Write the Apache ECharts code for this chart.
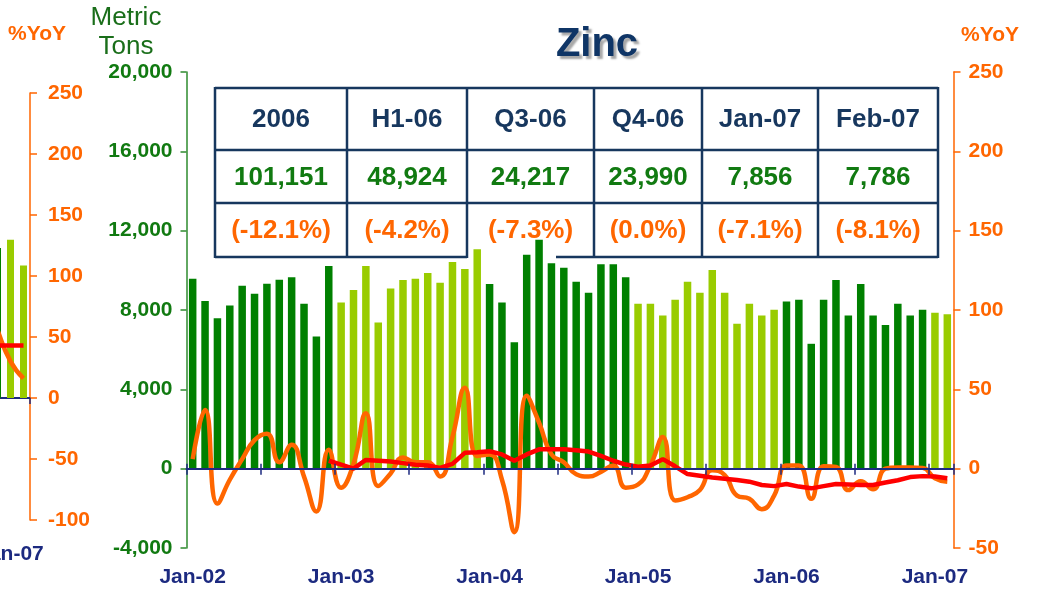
<!DOCTYPE html>
<html><head><meta charset="utf-8">
<script src="https://cdn.jsdelivr.net/npm/echarts@6/dist/echarts.min.js"></script>
<style>html,body{margin:0;padding:0;background:#fff}#c{width:1041px;height:589px}</style>
</head><body><div id="c"></div>
<script>
// ---------- data ----------
const monthNames = ['Jan','Feb','Mar','Apr','May','Jun','Jul','Aug','Sep','Oct','Nov','Dec'];
const yearSuffixes = ['02','03','04','05','06','07'];
const categories = [];
yearSuffixes.forEach(y => monthNames.forEach(m => categories.push(m + '-' + y)));
categories.length = 62; // Jan-02 .. Feb-07

// Monthly output, metric tons
const tons = [
  9580, 8450, 7590, 8230, 9226, 8822, 9327, 9529, 9646, 8317, 6666, 10218,
  8383, 9006, 10218, 7373, 9090, 9511, 9578, 9864, 9376, 10420, 10066, 11060,
  9309, 8383, 6380, 10790, 11548, 10352, 10134, 9427, 8871, 10302, 10302, 9646,
  8316, 8316, 7727, 8518, 9427, 8871, 10016, 8871, 7306, 8316, 7727, 8013,
  8434, 8518, 6296, 8518, 9511, 7727, 9309, 7727, 7239, 8316, 7727, 8013,
  7856, 7786
];
// Monthly %YoY (orange)
const yoyMonthly = [
  6, 37, -22, -7, 6, 18, 22, 4, 15, -5, -27, 12,
  -12, 3, 35, -11, -3, 7, 4, 4, -5, 20, 51, 8,
  9, -7, -40, 46, 29, 9, 4, -3.5, -5, -2, 2, -12,
  -10, 2, 20, -20, -18, -13.5, -1, -4, -17, -19, -25.5, -17,
  2, 2, -19, 1.5, 1, -13.5, -8, -13, 0, 0.8, 0.8, 0.5,
  -6, -8.3
];
// Cumulative %YoY (red)
const yoyRolling = [
  null, null, null, null, null, null, null, null, null, null, null, 5,
  2.5, 0, 5.5, 5, 4.5, 3.5, 2.5, 2, 0.5, 3, 10, 10.3,
  11, 9, 5, 9, 12.2, 12.2, 12.2, 11.6, 10.8, 8, 5, 2.6,
  1.2, 2, 6, 1.5, -3.4, -4.5, -5.6, -6.3, -7.1, -8.2, -10.3, -11,
  -9.7, -11.3, -12.4, -11, -9.7, -10, -10.3, -10.3, -8.7, -7.3, -5.3, -4.7,
  -5, -6
];
// Summary table
const tableHeaders = ['2006', 'H1-06', 'Q3-06', 'Q4-06', 'Jan-07', 'Feb-07'];
const tableTons = ['101,151', '48,924', '24,217', '23,990', '7,856', '7,786'];
const tablePct = ['(-12.1%)', '(-4.2%)', '(-7.3%)', '(0.0%)', '(-7.1%)', '(-8.1%)'];

// Partially visible neighbouring chart at the left edge
const fragCategories = ['Dec-06', 'Jan-07', 'Feb-07'];
const fragTons = [9836, 10380, 8682];
const fragYoyMonthly = [56, 30, 16];
const fragYoyRolling = [43, 43, 43];

// ---------- styling ----------
const FONT = '"Liberation Sans", Arial, sans-serif';
const NAVY = '#1c2a80';
const DARK = '#008000';
const LIGHT = '#99cc00';
const ORANGE = '#ff6600';
const RED = '#ff0000';
const GREEN_TXT = '#117a11';
const TABLE_NAVY = '#17375e';

function barColor(yearIdx) { return yearIdx % 2 ? LIGHT : DARK; }

const chart = echarts.init(document.getElementById('c'), null, {renderer: 'canvas'});

// table graphics
const colX = [215, 347, 467, 594, 702, 818, 938];
const rowY = [88, 150, 203, 257];
const tableEls = [];
const lineStyle = {stroke: TABLE_NAVY, lineWidth: 2.5};
rowY.slice(0, 3).forEach(y => tableEls.push({type: 'line', z: 0, shape: {x1: colX[0], y1: y, x2: colX[6], y2: y}, style: lineStyle}));
tableEls.push({type: 'line', z: 0, shape: {x1: colX[0], y1: rowY[3], x2: colX[2], y2: rowY[3]}, style: lineStyle});
tableEls.push({type: 'line', z: 0, shape: {x1: 556, y1: rowY[3], x2: colX[6], y2: rowY[3]}, style: lineStyle});
colX.forEach(x => tableEls.push({type: 'line', z: 0, shape: {x1: x, y1: rowY[0] - 1, x2: x, y2: rowY[3] + 1}, style: lineStyle}));
const rowsText = [
  {arr: tableHeaders, color: TABLE_NAVY},
  {arr: tableTons, color: GREEN_TXT},
  {arr: tablePct, color: ORANGE}
];
rowsText.forEach((r, ri) => {
  r.arr.forEach((t, ci) => {
    tableEls.push({
      type: 'text', z: 0,
      x: (colX[ci] + colX[ci + 1]) / 2,
      y: (rowY[ri] + rowY[ri + 1]) / 2 + 1,
      style: {text: t, fill: r.color, font: 'bold 26px ' + FONT, align: 'center', verticalAlign: 'middle'}
    });
  });
});

const option = {
  animation: false,
  backgroundColor: '#ffffff',
  grid: [
    {left: 186.5, width: 767, top: 72, height: 476, containLabel: false, outerBoundsMode: 'none'},
    {left: -9, width: 39, top: 93, height: 427, containLabel: false, outerBoundsMode: 'none'}
  ],
  xAxis: [
    { // main axis line + ticks at zero
      gridIndex: 0, type: 'category', data: categories, position: 'bottom', boundaryGap: true,
      axisLine: {show: true, onZero: true, lineStyle: {color: NAVY, width: 2}},
      axisTick: {show: true, interval: (i) => i % 6 === 0, length: 6, lineStyle: {color: NAVY, width: 1.5}},
      axisLabel: {show: false}, splitLine: {show: false}, z: 5
    },
    { // upward half of ticks
      gridIndex: 0, type: 'category', data: categories, position: 'bottom', boundaryGap: true,
      axisLine: {show: false, onZero: true},
      axisTick: {show: true, inside: true, interval: (i) => i % 6 === 0, length: 5, lineStyle: {color: NAVY, width: 1.5}},
      axisLabel: {show: false}, splitLine: {show: false}, z: 5
    },
    { // labels at the bottom
      gridIndex: 0, type: 'category', data: categories, position: 'bottom', boundaryGap: true,
      axisLine: {show: false, onZero: false}, axisTick: {show: false},
      axisLabel: {show: true, interval: (i) => i % 12 === 0, margin: 19, color: NAVY,
        fontWeight: 'bold', fontSize: 21, fontFamily: FONT},
      splitLine: {show: false}
    },
    { // fragment axis
      gridIndex: 1, type: 'category', data: fragCategories, position: 'bottom', boundaryGap: true,
      axisLine: {show: true, onZero: true, lineStyle: {color: NAVY, width: 2}},
      axisTick: {show: true, interval: (i) => i === 1, length: 6, lineStyle: {color: NAVY, width: 1.5}},
      axisLabel: {show: false}, splitLine: {show: false}
    },
    {
      gridIndex: 1, type: 'category', data: fragCategories, position: 'bottom', boundaryGap: true,
      axisLine: {show: false, onZero: false}, axisTick: {show: false},
      axisLabel: {show: true, interval: (i) => i === 1, margin: 24, color: NAVY,
        fontWeight: 'bold', fontSize: 21, fontFamily: FONT},
      splitLine: {show: false}
    }
  ],
  yAxis: [
    {
      gridIndex: 0, type: 'value', position: 'left', min: -4000, max: 20000, interval: 4000,
      axisLine: {show: true, onZero: false, lineStyle: {color: '#2e8b2e', width: 1.5}},
      axisTick: {show: true, length: 6, lineStyle: {color: '#2e8b2e', width: 1.5}},
      axisLabel: {show: true, margin: 14, color: GREEN_TXT, fontWeight: 'bold', fontSize: 21, fontFamily: FONT,
        showMinLabel: true, showMaxLabel: true,
        formatter: (v) => v.toLocaleString('en-US')},
      splitLine: {show: false}
    },
    {
      gridIndex: 0, type: 'value', position: 'right', min: -50, max: 250, interval: 50,
      axisLine: {show: true, onZero: false, lineStyle: {color: ORANGE, width: 1.5}},
      axisTick: {show: true, length: 7, lineStyle: {color: ORANGE, width: 1.5}},
      axisLabel: {show: true, margin: 15, color: ORANGE, fontWeight: 'bold', fontSize: 21, fontFamily: FONT,
        showMinLabel: true, showMaxLabel: true},
      splitLine: {show: false}
    },
    {
      gridIndex: 1, type: 'value', position: 'right', min: -100, max: 250, interval: 50,
      axisLine: {show: true, onZero: false, lineStyle: {color: ORANGE, width: 1.5}},
      axisTick: {show: true, length: 7, lineStyle: {color: ORANGE, width: 1.5}},
      axisLabel: {show: true, margin: 18, color: ORANGE, fontWeight: 'bold', fontSize: 21, fontFamily: FONT,
        showMinLabel: true, showMaxLabel: true},
      splitLine: {show: false}
    },
    {
      gridIndex: 1, type: 'value', position: 'left', min: -8000, max: 20000, show: false,
      splitLine: {show: false}
    }
  ],
  series: [
    {
      type: 'bar', xAxisIndex: 0, yAxisIndex: 0, data: tons, barWidth: 7.5, z: 2,
      itemStyle: {color: (p) => barColor(Math.floor(p.dataIndex / 12))}
    },
    {
      type: 'line', xAxisIndex: 0, yAxisIndex: 1, data: yoyMonthly, smooth: 0.5, symbol: 'none', z: 3,
      lineStyle: {color: ORANGE, width: 4.5}
    },
    {
      type: 'line', xAxisIndex: 0, yAxisIndex: 1, data: yoyRolling, smooth: false, symbol: 'none', z: 4,
      connectNulls: false, lineStyle: {color: RED, width: 4.5}
    },
    {
      type: 'bar', xAxisIndex: 3, yAxisIndex: 3, data: fragTons, barWidth: 7, z: 2,
      itemStyle: {color: (p) => p.dataIndex === 0 ? DARK : LIGHT}
    },
    {
      type: 'line', xAxisIndex: 3, yAxisIndex: 2, data: fragYoyMonthly, smooth: 0.5, symbol: 'none', z: 3,
      lineStyle: {color: ORANGE, width: 4.5}
    },
    {
      type: 'line', xAxisIndex: 3, yAxisIndex: 2, data: fragYoyRolling, smooth: false, symbol: 'none', z: 4,
      lineStyle: {color: RED, width: 4.5}
    }
  ],
  graphic: [
    {type: 'group', z: 0, children: tableEls},
    {type: 'text', z: 10, x: 597, y: 45,
      style: {text: 'Zinc', fill: '#0f3566', font: 'bold 40px ' + FONT, align: 'center', verticalAlign: 'middle',
        textShadowColor: 'rgba(0,0,0,0.35)', textShadowOffsetX: 3, textShadowOffsetY: 3, textShadowBlur: 2}},
    {type: 'text', z: 10, x: 126, y: 18,
      style: {text: 'Metric', fill: '#1a6e1a', font: '26px ' + FONT, align: 'center', verticalAlign: 'middle'}},
    {type: 'text', z: 10, x: 126, y: 47,
      style: {text: 'Tons', fill: '#1a6e1a', font: '26px ' + FONT, align: 'center', verticalAlign: 'middle'}},
    {type: 'text', z: 10, x: 990, y: 35,
      style: {text: '%YoY', fill: ORANGE, font: 'bold 21px ' + FONT, align: 'center', verticalAlign: 'middle'}},
    {type: 'text', z: 10, x: 37, y: 34,
      style: {text: '%YoY', fill: ORANGE, font: 'bold 21px ' + FONT, align: 'center', verticalAlign: 'middle'}}
  ]
};
chart.setOption(option);
</script>
</body></html>
